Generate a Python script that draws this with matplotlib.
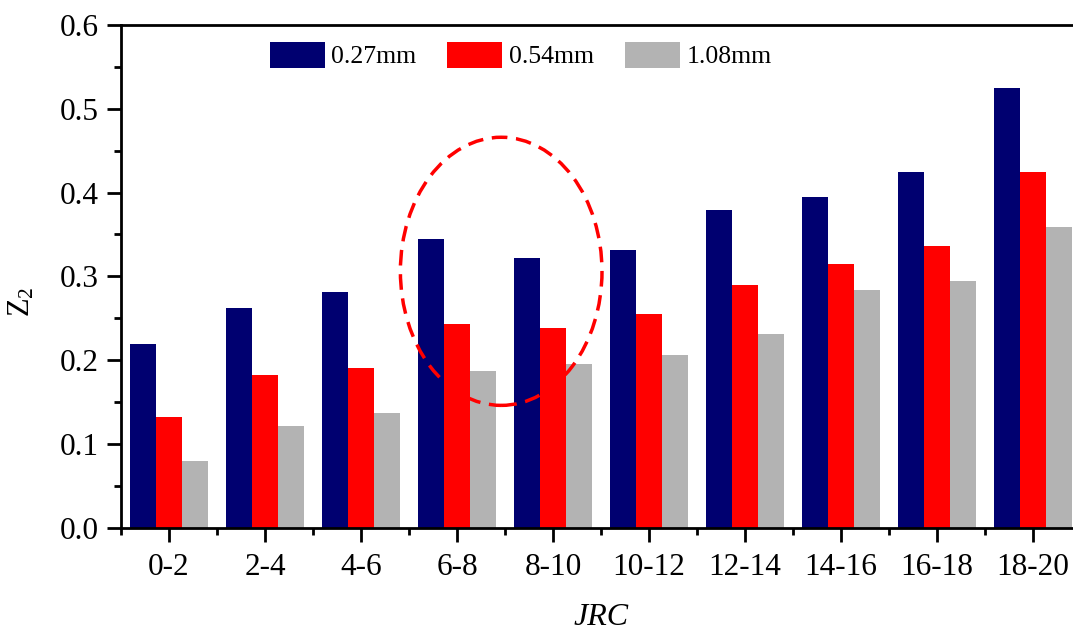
import numpy as np
import matplotlib.pyplot as plt
from matplotlib.patches import Ellipse
from matplotlib.ticker import MultipleLocator

# Z2 of the profiles for each JRC range, three sampling intervals
jrc = ['0-2', '2-4', '4-6', '6-8', '8-10', '10-12', '12-14', '14-16', '16-18', '18-20']
z2_027 = [0.219, 0.262, 0.281, 0.345, 0.322, 0.332, 0.379, 0.395, 0.424, 0.525]
z2_054 = [0.132, 0.182, 0.191, 0.243, 0.238, 0.255, 0.290, 0.315, 0.336, 0.424]
z2_108 = [0.080, 0.121, 0.137, 0.187, 0.195, 0.206, 0.231, 0.284, 0.294, 0.359]
series = [('0.27mm', z2_027, '#000070'),
          ('0.54mm', z2_054, '#FF0000'),
          ('1.08mm', z2_108, '#B3B3B3')]

plt.rcParams['font.family'] = ['Liberation Serif', 'DejaVu Serif']
plt.rcParams['mathtext.fontset'] = 'custom'
plt.rcParams['mathtext.rm'] = 'Liberation Serif'
plt.rcParams['mathtext.it'] = 'Liberation Serif:italic'

fig = plt.figure(figsize=(10.73, 6.31), dpi=100)
ax = fig.add_axes([0.1128, 0.1637, 0.8947, 0.7967])

x = np.arange(len(jrc))
w = 0.27
for i, (name, vals, col) in enumerate(series):
    ax.bar(x + (i - 1) * w, vals, width=w, color=col, label=name)

ax.set_xlim(-0.5, len(jrc) - 0.5)
ax.set_ylim(0, 0.6)
ax.set_xticks(x)
ax.set_xticklabels(jrc)
ax.xaxis.set_minor_locator(MultipleLocator(1, offset=0.5))
ax.yaxis.set_major_locator(MultipleLocator(0.1))
ax.yaxis.set_minor_locator(MultipleLocator(0.05))
ax.yaxis.set_major_formatter(plt.FuncFormatter(lambda v, p: '%.1f' % v))

for s in ['left', 'bottom', 'top']:
    ax.spines[s].set_linewidth(2)
ax.spines['right'].set_visible(False)
ax.tick_params(which='major', direction='out', length=10, width=2, labelsize=22.5, pad=6)
ax.tick_params(which='minor', direction='out', length=5, width=2)
ax.tick_params(axis='x', which='major', pad=8)

ax.set_ylabel(r'Z$_\mathregular{2}$', fontsize=22)
ax.yaxis.set_label_coords(-0.088, 0.45)
ax.set_xlabel('JRC', fontsize=23, style='italic')
ax.xaxis.set_label_coords(0.5, -0.178)
ax.xaxis.label.set_va('center')

# dashed ellipse around the 6-8 and 8-10 groups
ell = Ellipse((3.46, 0.306), 2.1, 0.32, fill=False, edgecolor='#FF0000',
              linewidth=2.5, linestyle=(0, (4.5, 2.5)), zorder=5)
ax.add_patch(ell)

fig.legend(loc='center', bbox_to_anchor=(520.5 / 1073, 1 - 55 / 631),
           bbox_transform=fig.transFigure, ncol=3, frameon=False,
           fontsize=18.5, handlelength=2.15, handleheight=1.2,
           handletextpad=0.25, columnspacing=1.2, borderpad=0)

fig.savefig('out.png', dpi=100)
